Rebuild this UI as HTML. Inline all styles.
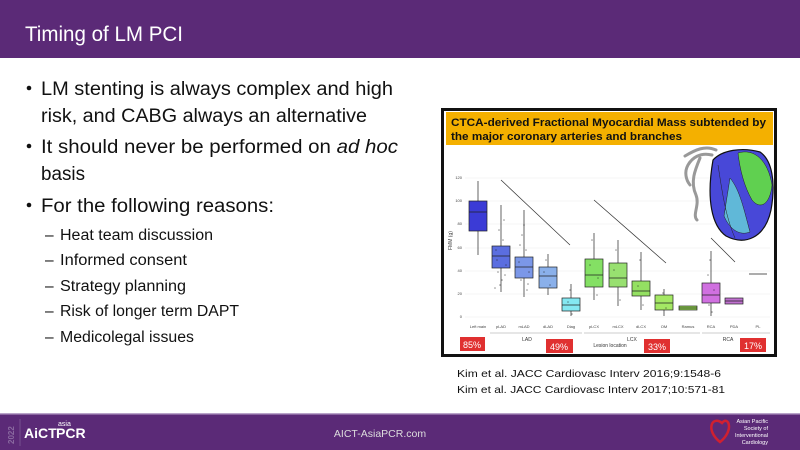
<!DOCTYPE html>
<html><head><meta charset="utf-8"><style>
html,body{margin:0;padding:0;background:#fff}
svg{display:block}
text{font-family:"Liberation Sans",sans-serif}
</style></head><body>
<svg width="800" height="450" viewBox="0 0 800 450" xmlns="http://www.w3.org/2000/svg">
<rect x="0" y="0" width="800" height="58" fill="#5b2a77"/>
<text x="25" y="41" font-size="21" fill="#fff" textLength="158" lengthAdjust="spacingAndGlyphs">Timing of LM PCI</text>

<g font-size="19" fill="#111">
<circle cx="29" cy="88" r="2.3" fill="#111"/>
<text x="41" y="95" textLength="352" lengthAdjust="spacingAndGlyphs">LM stenting is always complex and high</text>
<text x="41" y="122" textLength="326" lengthAdjust="spacingAndGlyphs">risk, and CABG always an alternative</text>
<circle cx="29" cy="146" r="2.3" fill="#111"/>
<text x="41" y="153" textLength="357" lengthAdjust="spacingAndGlyphs">It should never be performed on <tspan font-style="italic">ad hoc</tspan></text>
<text x="41" y="180" textLength="44" lengthAdjust="spacingAndGlyphs">basis</text>
<circle cx="29" cy="205" r="2.3" fill="#111"/>
<text x="41" y="212" textLength="233" lengthAdjust="spacingAndGlyphs">For the following reasons:</text>
</g>
<g font-size="15.5" fill="#111">
<text x="45" y="240">– <tspan x="60" textLength="153" lengthAdjust="spacingAndGlyphs">Heat team discussion</tspan></text>
<text x="45" y="265">– <tspan x="60" textLength="127" lengthAdjust="spacingAndGlyphs">Informed consent</tspan></text>
<text x="45" y="291">– <tspan x="60" textLength="126" lengthAdjust="spacingAndGlyphs">Strategy planning</tspan></text>
<text x="45" y="316">– <tspan x="60" textLength="179" lengthAdjust="spacingAndGlyphs">Risk of longer term DAPT</tspan></text>
<text x="45" y="342">– <tspan x="60" textLength="134" lengthAdjust="spacingAndGlyphs">Medicolegal issues</tspan></text>
</g>

<!-- figure -->
<rect x="441" y="108" width="336" height="249" fill="#111"/>
<rect x="444" y="111" width="330" height="243" fill="#fff"/>
<rect x="446" y="112" width="327" height="33" fill="#f4b000"/>
<text x="451" y="126" font-size="11" font-weight="bold" fill="#111" textLength="315" lengthAdjust="spacingAndGlyphs">CTCA-derived Fractional Myocardial Mass subtended by</text>
<text x="451" y="140" font-size="11" font-weight="bold" fill="#111" textLength="231" lengthAdjust="spacingAndGlyphs">the major coronary arteries and branches</text>

<g stroke="#ececec" stroke-width="0.6">
<line x1="465" y1="178" x2="770" y2="178"/><line x1="465" y1="201" x2="770" y2="201"/>
<line x1="465" y1="224" x2="770" y2="224"/><line x1="465" y1="248" x2="770" y2="248"/>
<line x1="465" y1="271" x2="770" y2="271"/><line x1="465" y1="294" x2="770" y2="294"/>
<line x1="465" y1="317" x2="770" y2="317"/>
</g>
<g font-size="4" fill="#444" text-anchor="end">
<text x="462" y="179">120</text><text x="462" y="202">100</text><text x="462" y="225">80</text>
<text x="462" y="249">60</text><text x="462" y="272">40</text><text x="462" y="295">20</text><text x="462" y="318">0</text>
</g>
<text x="452" y="250" font-size="5" fill="#444" transform="rotate(-90 452 250)">FMM (g)</text>

<g stroke="#333" stroke-width="0.7">
<line x1="501" y1="180" x2="570" y2="245"/>
<line x1="594" y1="200" x2="666" y2="263"/>
<line x1="711" y1="238" x2="735" y2="262"/>
</g>

<g stroke="#222" stroke-width="0.7">
<line x1="478" y1="181" x2="478" y2="255"/>
<rect x="469" y="201" width="18" height="30" fill="#3b3bd6"/><line x1="469" y1="212" x2="487" y2="212"/>
<line x1="501" y1="205" x2="501" y2="292"/>
<rect x="492" y="246" width="18" height="22" fill="#5b6ee0"/><line x1="492" y1="256" x2="510" y2="256"/>
<line x1="524" y1="210" x2="524" y2="297"/>
<rect x="515" y="257" width="18" height="21" fill="#7b97e8"/><line x1="515" y1="267" x2="533" y2="267"/>
<line x1="548" y1="254" x2="548" y2="295"/>
<rect x="539" y="267" width="18" height="21" fill="#8ab0ea"/><line x1="539" y1="276" x2="557" y2="276"/>
<line x1="571" y1="284" x2="571" y2="316"/>
<rect x="562" y="298" width="18" height="13" fill="#84e8f2"/><line x1="562" y1="305" x2="580" y2="305"/>
<line x1="594" y1="233" x2="594" y2="300"/>
<rect x="585" y="259" width="18" height="28" fill="#84e064"/><line x1="585" y1="275" x2="603" y2="275"/>
<line x1="618" y1="240" x2="618" y2="306"/>
<rect x="609" y="263" width="18" height="24" fill="#98e070"/><line x1="609" y1="278" x2="627" y2="278"/>
<line x1="641" y1="252" x2="641" y2="310"/>
<rect x="632" y="281" width="18" height="15" fill="#94e062"/><line x1="632" y1="291" x2="650" y2="291"/>
<line x1="664" y1="289" x2="664" y2="316"/>
<rect x="655" y="295" width="18" height="15" fill="#a4e864"/><line x1="655" y1="303" x2="673" y2="303"/>
<rect x="679" y="306" width="18" height="4" fill="#94d850"/><line x1="679" y1="308" x2="697" y2="308"/>
<line x1="711" y1="251" x2="711" y2="316"/>
<rect x="702" y="283" width="18" height="20" fill="#d070e0"/><line x1="702" y1="295" x2="720" y2="295"/>
<rect x="725" y="298" width="18" height="6" fill="#c070d0"/><line x1="725" y1="301" x2="743" y2="301"/>
<line x1="749" y1="274" x2="767" y2="274"/>
</g>
<g fill="#222" opacity="0.5">
<circle cx="499" cy="230" r="0.8"/><circle cx="503" cy="240" r="0.8"/><circle cx="497" cy="260" r="0.8"/><circle cx="505" cy="275" r="0.8"/><circle cx="500" cy="285" r="0.8"/><circle cx="504" cy="220" r="0.8"/>
<circle cx="496" cy="250" r="0.8"/><circle cx="506" cy="265" r="0.8"/><circle cx="498" cy="272" r="0.8"/><circle cx="502" cy="280" r="0.8"/><circle cx="495" cy="288" r="0.8"/>
<circle cx="522" cy="235" r="0.8"/><circle cx="526" cy="250" r="0.8"/><circle cx="521" cy="280" r="0.8"/><circle cx="527" cy="290" r="0.8"/><circle cx="524" cy="225" r="0.8"/>
<circle cx="519" cy="262" r="0.8"/><circle cx="529" cy="272" r="0.8"/><circle cx="520" cy="245" r="0.8"/><circle cx="528" cy="284" r="0.8"/>
<circle cx="546" cy="260" r="0.8"/><circle cx="550" cy="285" r="0.8"/><circle cx="544" cy="272" r="0.8"/><circle cx="570" cy="290" r="0.8"/><circle cx="572" cy="314" r="0.8"/><circle cx="568" cy="302" r="0.8"/>
<circle cx="592" cy="240" r="0.8"/><circle cx="597" cy="295" r="0.8"/><circle cx="590" cy="265" r="0.8"/><circle cx="598" cy="278" r="0.8"/>
<circle cx="616" cy="250" r="0.8"/><circle cx="620" cy="300" r="0.8"/><circle cx="614" cy="270" r="0.8"/>
<circle cx="640" cy="260" r="0.8"/><circle cx="643" cy="305" r="0.8"/><circle cx="638" cy="286" r="0.8"/><circle cx="663" cy="293" r="0.8"/><circle cx="666" cy="308" r="0.8"/>
<circle cx="710" cy="260" r="0.8"/><circle cx="712" cy="312" r="0.8"/><circle cx="708" cy="275" r="0.8"/><circle cx="714" cy="290" r="0.8"/><circle cx="709" cy="305" r="0.8"/>
</g>
<g font-size="4" fill="#444" text-anchor="middle">
<text x="478" y="328">Left main</text><text x="501" y="328">pLAD</text><text x="524" y="328">mLAD</text><text x="548" y="328">dLAD</text>
<text x="571" y="328">Diag</text><text x="594" y="328">pLCX</text><text x="618" y="328">mLCX</text><text x="641" y="328">dLCX</text>
<text x="664" y="328">OM</text><text x="688" y="328">Ramus</text><text x="711" y="328">RCA</text><text x="734" y="328">PDA</text><text x="758" y="328">PL</text>
</g>
<g stroke="#999" stroke-width="0.6">
<line x1="490" y1="333" x2="582" y2="333"/><line x1="584" y1="333" x2="700" y2="333"/><line x1="702" y1="333" x2="770" y2="333"/>
</g>
<g font-size="5" fill="#333" text-anchor="middle">
<text x="527" y="341">LAD</text><text x="632" y="341">LCX</text><text x="728" y="341">RCA</text><text x="610" y="347">Lesion location</text>
</g>
<g fill="#e03030"><rect x="460" y="337" width="25" height="14"/><rect x="546" y="339" width="27" height="14"/><rect x="644" y="339" width="26" height="14"/><rect x="740" y="338" width="26" height="14"/></g>
<g font-size="9" fill="#fff" text-anchor="middle">
<text x="472" y="348">85%</text><text x="559" y="350">49%</text><text x="657" y="350">33%</text><text x="753" y="349">17%</text>
</g>

<!-- heart -->
<g stroke="#999" stroke-width="3" fill="none" stroke-linecap="round">
<path d="M712 155 C700 152 692 158 688 165 C684 172 686 180 690 185"/>
<path d="M700 158 C695 170 690 182 696 195 C700 205 692 215 697 220"/>
<path d="M716 150 C705 145 695 150 685 156"/>
</g>
<path d="M712 165 L740 158" stroke="#e08090" stroke-width="2"/>
<path d="M713 160 C722 150 742 147 760 152 C772 160 776 182 771 210 C765 238 745 246 726 236 C712 226 706 200 713 160 Z" fill="#4848d8" stroke="#111" stroke-width="1.2"/>
<path d="M738 153 C754 148 768 160 772 185 C770 205 760 210 752 200 C744 186 740 170 738 153 Z" fill="#60d050" stroke="#222" stroke-width="0.5"/>
<path d="M730 178 C740 190 744 210 750 232 C740 236 730 230 724 216 Z" fill="#60b8d8" stroke="#222" stroke-width="0.5"/>
<path d="M718 165 C722 190 725 215 735 238" stroke="#222" stroke-width="0.5" fill="none"/>

<text x="457" y="377" font-size="10.5" fill="#111" textLength="264" lengthAdjust="spacingAndGlyphs">Kim et al. JACC Cardiovasc Interv 2016;9:1548-6</text>
<text x="457" y="393" font-size="10.5" fill="#111" textLength="268" lengthAdjust="spacingAndGlyphs">Kim et al. JACC Cardiovasc Interv 2017;10:571-81</text>

<!-- footer -->
<rect x="0" y="413" width="800" height="37" fill="#5b2a77"/>
<rect x="0" y="413" width="800" height="1.5" fill="#b9a3c9"/>
<text x="14" y="444" font-size="8" font-weight="bold" fill="#8a6aa0" transform="rotate(-90 14 444)">2022</text>
<line x1="20" y1="419" x2="20" y2="446" stroke="#8a6aa0" stroke-width="0.6"/>
<text x="24" y="438" font-size="14" font-weight="bold" fill="#fff">AiCT</text>
<text x="58" y="426" font-size="7" fill="#fff">asia</text>
<text x="56" y="438" font-size="14" font-weight="bold" fill="#fff">PCR</text>
<text x="380" y="437" font-size="10.5" fill="#ddd" text-anchor="middle">AICT-AsiaPCR.com</text>
<path d="M722 423 C712 415 705 430 720 442 C735 430 728 415 722 423 Z" fill="none" stroke="#d02030" stroke-width="2.5"/>
<g font-size="5.5" fill="#fff" text-anchor="end">
<text x="768" y="423">Asian Pacific</text><text x="768" y="430">Society of</text><text x="768" y="437">Interventional</text><text x="768" y="444">Cardiology</text>
</g>
</svg>
</body></html>
